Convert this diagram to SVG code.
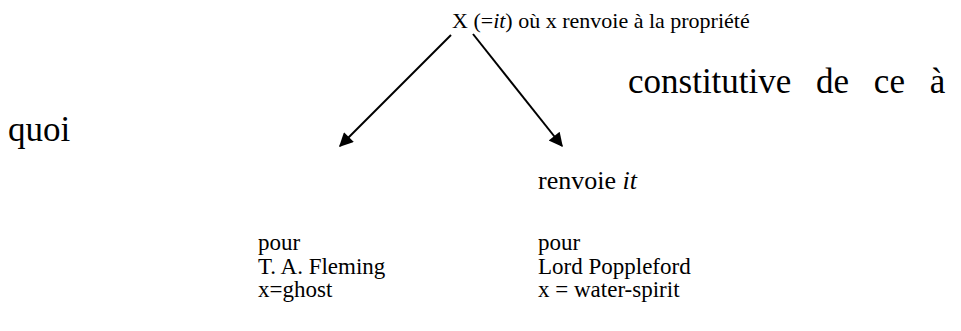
<svg xmlns="http://www.w3.org/2000/svg" width="961" height="331" viewBox="0 0 961 331">
<style>
text { font-family: "Liberation Serif", "Times New Roman", serif; fill: #000; }
.t { font-size: 22px; }
.b { font-size: 23px; }
.r { font-size: 26px; }
.big { font-size: 35px; }
.conn { stroke: #000; stroke-width: 2; fill: none; marker-end: url(#ah); }
</style>
<defs>
<marker id="ah" viewBox="0 0 10 10" refX="9" refY="5" markerWidth="8" markerHeight="7" markerUnits="strokeWidth" orient="auto">
<path d="M0,0 L10,5 L0,10 z" fill="#000"/>
</marker>
</defs>
<rect width="961" height="331" fill="#fff"/>
<g id="top">
<text class="t" x="452" y="28">X (=<tspan font-style="italic">it</tspan>) où x renvoie à la propriété</text>
</g>
<g id="constitutive">
<text class="big" x="628" y="93" word-spacing="16">constitutive de ce à</text>
</g>
<g id="quoi">
<text class="big" x="8" y="141">quoi</text>
</g>
<g id="renvoie">
<text class="r" x="538" y="189">renvoie <tspan font-style="italic">it</tspan></text>
</g>
<g id="left">
<text class="b" x="258" y="250">pour</text>
<text class="b" x="258" y="273.5">T. A. Fleming</text>
<text class="b" x="258" y="297">x=ghost</text>
</g>
<g id="right">
<text class="b" x="538" y="250">pour</text>
<text class="b" x="538" y="273.5">Lord Poppleford</text>
<text class="b" x="538" y="297">x = water-spirit</text>
</g>
<g id="connectors">
<line class="conn" x1="451" y1="35" x2="340" y2="146"/>
<line class="conn" x1="473" y1="34" x2="562" y2="146"/>
</g>
</svg>
